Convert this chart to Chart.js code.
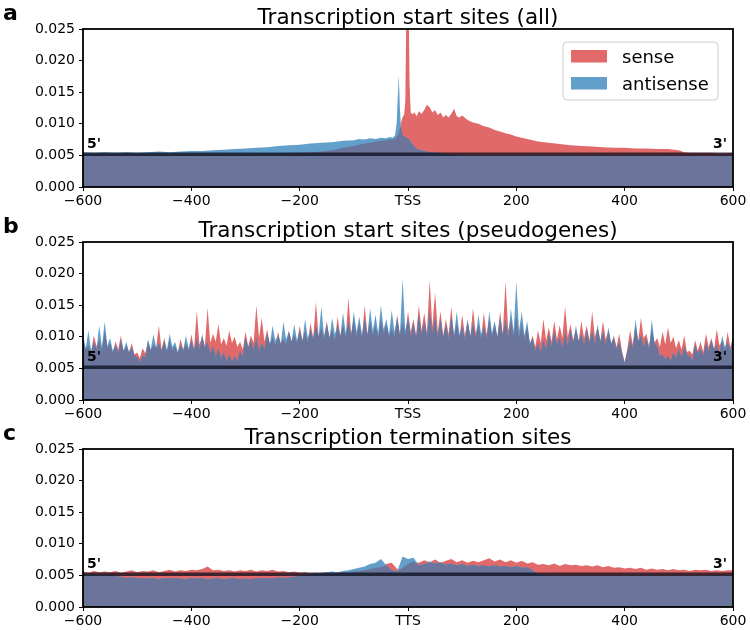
<!DOCTYPE html>
<html>
<head>
  <title>Transcription site profiles</title>
  <script src="https://cdn.jsdelivr.net/npm/chart.js"></script>
  <style>
    body {
      margin: 0;
      background: #fff;
    }
    .wrap {
      position: relative;
      width: 750px;
      height: 630px;
    }
    canvas {
      position: absolute;
      left: 0;
    }
  </style>
</head>
<body>
  <div class="wrap">
    <canvas id="panelA" width="750" height="210" style="top:0px"></canvas>
    <canvas id="panelB" width="750" height="210" style="top:213px"></canvas>
    <canvas id="panelC" width="750" height="210" style="top:420px"></canvas>
  </div>

  <script>
    // level of the dark reference line drawn across every panel
    const refLevel = 0.0052;

    // panel a: positions are finer around the TSS peaks
    const posA = [
      -600, -580, -560, -540, -520, -500, -480, -460, -440, -420,
      -400, -380, -360, -340, -320, -300, -280, -260, -240, -220,
      -200, -180, -160, -140, -120, -100, -90, -80, -70, -60,
      -50, -40, -34, -28, -24, -21, -19, -17, -15, -13,
      -11, -9, -7, -5, -3, -1, 1, 3, 5, 8,
      12, 16, 20, 25, 30, 35, 40, 45, 50, 55,
      60, 65, 70, 75, 80, 85, 90, 95, 100, 110,
      120, 130, 140, 150, 160, 170, 180, 190, 200, 220,
      240, 260, 280, 300, 320, 340, 360, 380, 400, 420,
      440, 460, 480, 500, 510, 520, 540, 560, 580, 600
    ];
    const senseA = [
      0.0052, 0.0053, 0.0052, 0.0052, 0.0053, 0.0052, 0.0052, 0.0053, 0.0052, 0.0052,
      0.0052, 0.0053, 0.0052, 0.0052, 0.0053, 0.0052, 0.0053, 0.0053, 0.0053, 0.0054,
      0.0054, 0.0055, 0.0056, 0.0058, 0.0062, 0.0065, 0.0067, 0.0069, 0.0070, 0.0072,
      0.0073, 0.0074, 0.0075, 0.0075, 0.0077, 0.0079, 0.0082, 0.0086, 0.0092, 0.0100,
      0.0108, 0.0112, 0.0115, 0.0135, 0.0280, 0.0340, 0.0300, 0.0160, 0.0118, 0.0115,
      0.0118, 0.0112, 0.0120, 0.0116, 0.0122, 0.0130, 0.0126, 0.0118, 0.0122, 0.0114,
      0.0118, 0.0110, 0.0114, 0.0110, 0.0116, 0.0124, 0.0112, 0.0110, 0.0113, 0.0106,
      0.0102, 0.0100, 0.0096, 0.0094, 0.0090, 0.0088, 0.0085, 0.0083, 0.0080, 0.0076,
      0.0072, 0.0070, 0.0068, 0.0066, 0.0065, 0.0064, 0.0063, 0.0062, 0.0062, 0.0061,
      0.0061, 0.0060, 0.0060, 0.0058, 0.0055, 0.0054, 0.0054, 0.0054, 0.0053, 0.0054
    ];
    const antiA = [
      0.0055, 0.0054, 0.0055, 0.0054, 0.0055, 0.0054, 0.0055, 0.0056, 0.0055, 0.0056,
      0.0057, 0.0057, 0.0058, 0.0059, 0.0060, 0.0061, 0.0062, 0.0063, 0.0065, 0.0066,
      0.0067, 0.0069, 0.0070, 0.0071, 0.0073, 0.0074, 0.0076, 0.0075, 0.0077, 0.0076,
      0.0078, 0.0077, 0.0079, 0.0078, 0.0082, 0.0100, 0.0140, 0.0177, 0.0125, 0.0095,
      0.0085, 0.0082, 0.0080, 0.0079, 0.0078, 0.0077, 0.0076, 0.0074, 0.0072, 0.0068,
      0.0064, 0.0061, 0.0059, 0.0058, 0.0057, 0.0056, 0.0055, 0.0055, 0.0054, 0.0054,
      0.0053, 0.0053, 0.0052, 0.0052, 0.0051, 0.0051, 0.0050, 0.0050, 0.0050, 0.0050,
      0.0049, 0.0050, 0.0049, 0.0049, 0.0050, 0.0049, 0.0049, 0.0050, 0.0049, 0.0049,
      0.0050, 0.0049, 0.0049, 0.0050, 0.0049, 0.0049, 0.0050, 0.0049, 0.0049, 0.0050,
      0.0049, 0.0049, 0.0050, 0.0049, 0.0049, 0.0050, 0.0049, 0.0049, 0.0050, 0.0049
    ];

    // panels b and c: one value every 10 bp from -600 to 600
    const posBC = [];
    for (let p = -600; p <= 600; p += 10) posBC.push(p);

    // panel b spike tops (at posBC) ...
    const senseB = [
      0.0095, 0.0088, 0.0102, 0.0096, 0.0110, 0.0090, 0.0093, 0.0102, 0.0086, 0.0090,
      0.0075, 0.0082, 0.0092, 0.0088, 0.0118, 0.0098, 0.0094, 0.0085, 0.0097, 0.0090,
      0.0104, 0.0141, 0.0100, 0.0146, 0.0105, 0.0120, 0.0098, 0.0110, 0.0100, 0.0092,
      0.0108, 0.0102, 0.0150, 0.0130, 0.0112, 0.0100, 0.0108, 0.0098, 0.0110, 0.0104,
      0.0118, 0.0110, 0.0122, 0.0155, 0.0115, 0.0125, 0.0112, 0.0132, 0.0120, 0.0162,
      0.0128, 0.0122, 0.0150, 0.0126, 0.0118, 0.0128, 0.0120, 0.0115, 0.0135, 0.0125,
      0.0140, 0.0128, 0.0150, 0.0138, 0.0190, 0.0170, 0.0140, 0.0128, 0.0148, 0.0122,
      0.0135, 0.0125, 0.0145, 0.0120, 0.0138, 0.0128, 0.0120, 0.0140, 0.0188, 0.0130,
      0.0135, 0.0122, 0.0118, 0.0102, 0.0110, 0.0128, 0.0115, 0.0125, 0.0118, 0.0148,
      0.0120, 0.0112, 0.0125, 0.0118, 0.0140, 0.0115, 0.0125, 0.0110, 0.0102, 0.0105,
      0.0060, 0.0110, 0.0118, 0.0130, 0.0105, 0.0112, 0.0098, 0.0108, 0.0115, 0.0100,
      0.0095, 0.0102, 0.0078, 0.0095, 0.0092, 0.0105, 0.0098, 0.0112, 0.0095, 0.0108,
      0.0098
    ];
    const antiB = [
      0.0105, 0.0110, 0.0092, 0.0118, 0.0124, 0.0098, 0.0088, 0.0095, 0.0092, 0.0084,
      0.0068, 0.0070, 0.0096, 0.0104, 0.0090, 0.0094, 0.0105, 0.0092, 0.0088, 0.0102,
      0.0094, 0.0098, 0.0105, 0.0092, 0.0085, 0.0082, 0.0075, 0.0072, 0.0070, 0.0078,
      0.0100, 0.0094, 0.0098, 0.0090, 0.0105, 0.0118, 0.0102, 0.0124, 0.0108, 0.0120,
      0.0110, 0.0128, 0.0112, 0.0118, 0.0148, 0.0120, 0.0130, 0.0118, 0.0138, 0.0125,
      0.0140, 0.0132, 0.0128, 0.0145, 0.0135, 0.0150, 0.0128, 0.0142, 0.0130, 0.0192,
      0.0130, 0.0122, 0.0135, 0.0125, 0.0140, 0.0130, 0.0128, 0.0120, 0.0132, 0.0140,
      0.0118, 0.0128, 0.0122, 0.0135, 0.0118, 0.0140, 0.0125, 0.0130, 0.0128, 0.0145,
      0.0188, 0.0140, 0.0125, 0.0098, 0.0090, 0.0095, 0.0105, 0.0110, 0.0100, 0.0108,
      0.0112, 0.0118, 0.0105, 0.0112, 0.0110, 0.0120, 0.0108, 0.0115, 0.0098, 0.0092,
      0.0058, 0.0095, 0.0128, 0.0102, 0.0098, 0.0128, 0.0085, 0.0072, 0.0070, 0.0075,
      0.0080, 0.0085, 0.0070, 0.0088, 0.0082, 0.0090, 0.0095, 0.0088, 0.0102, 0.0092,
      0.0100
    ];
    // ... and the troughs between them (at -595, -585, ..., 595)
    const senseBLow = [
      0.0080, 0.0076, 0.0085, 0.0078, 0.0082, 0.0074, 0.0080, 0.0077, 0.0075, 0.0072,
      0.0066, 0.0074, 0.0078, 0.0082, 0.0080, 0.0076, 0.0078, 0.0074, 0.0080, 0.0078,
      0.0082, 0.0088, 0.0085, 0.0090, 0.0092, 0.0088, 0.0086, 0.0090, 0.0084, 0.0080,
      0.0085, 0.0090, 0.0098, 0.0092, 0.0088, 0.0086, 0.0090, 0.0088, 0.0092, 0.0090,
      0.0095, 0.0092, 0.0098, 0.0100, 0.0096, 0.0098, 0.0094, 0.0102, 0.0098, 0.0104,
      0.0100, 0.0098, 0.0104, 0.0102, 0.0098, 0.0105, 0.0100, 0.0098, 0.0104, 0.0102,
      0.0108, 0.0102, 0.0110, 0.0106, 0.0115, 0.0108, 0.0102, 0.0104, 0.0100, 0.0098,
      0.0102, 0.0100, 0.0106, 0.0098, 0.0104, 0.0100, 0.0098, 0.0104, 0.0110, 0.0100,
      0.0098, 0.0095, 0.0088, 0.0084, 0.0090, 0.0094, 0.0092, 0.0096, 0.0098, 0.0100,
      0.0095, 0.0092, 0.0098, 0.0094, 0.0100, 0.0092, 0.0096, 0.0088, 0.0084, 0.0078,
      0.0082, 0.0088, 0.0092, 0.0098, 0.0085, 0.0090, 0.0084, 0.0088, 0.0090, 0.0082,
      0.0080, 0.0076, 0.0072, 0.0078, 0.0076, 0.0084, 0.0080, 0.0086, 0.0078, 0.0084
    ];
    const antiBLow = [
      0.0082, 0.0078, 0.0080, 0.0084, 0.0086, 0.0078, 0.0074, 0.0078, 0.0076, 0.0070,
      0.0060, 0.0068, 0.0080, 0.0084, 0.0078, 0.0080, 0.0084, 0.0076, 0.0078, 0.0082,
      0.0078, 0.0080, 0.0082, 0.0074, 0.0068, 0.0066, 0.0062, 0.0060, 0.0062, 0.0068,
      0.0082, 0.0080, 0.0078, 0.0080, 0.0088, 0.0094, 0.0088, 0.0096, 0.0092, 0.0094,
      0.0092, 0.0098, 0.0096, 0.0100, 0.0102, 0.0098, 0.0104, 0.0100, 0.0106, 0.0102,
      0.0108, 0.0104, 0.0102, 0.0110, 0.0106, 0.0112, 0.0104, 0.0108, 0.0102, 0.0110,
      0.0100, 0.0098, 0.0104, 0.0100, 0.0106, 0.0100, 0.0098, 0.0096, 0.0102, 0.0104,
      0.0096, 0.0100, 0.0098, 0.0104, 0.0096, 0.0106, 0.0100, 0.0102, 0.0098, 0.0108,
      0.0110, 0.0102, 0.0090, 0.0078, 0.0076, 0.0080, 0.0084, 0.0088, 0.0082, 0.0086,
      0.0090, 0.0094, 0.0086, 0.0090, 0.0088, 0.0094, 0.0086, 0.0090, 0.0080, 0.0074,
      0.0076, 0.0082, 0.0094, 0.0084, 0.0080, 0.0092, 0.0070, 0.0064, 0.0062, 0.0066,
      0.0068, 0.0072, 0.0062, 0.0074, 0.0070, 0.0076, 0.0080, 0.0074, 0.0084, 0.0078
    ];

    const senseC = [
      0.0056, 0.0054, 0.0057, 0.0055, 0.0056, 0.0055, 0.0057, 0.0054, 0.0056, 0.0058,
      0.0055, 0.0057, 0.0056, 0.0058, 0.0055, 0.0057, 0.0059, 0.0056, 0.0058, 0.0057,
      0.0059, 0.0058, 0.0060, 0.0064, 0.0058, 0.0059, 0.0057, 0.0058, 0.0056, 0.0058,
      0.0057, 0.0059, 0.0056, 0.0058, 0.0057, 0.0059, 0.0056, 0.0057, 0.0055, 0.0056,
      0.0054, 0.0055, 0.0053, 0.0054, 0.0053, 0.0054, 0.0053, 0.0054, 0.0055, 0.0054,
      0.0056, 0.0057, 0.0058, 0.0060, 0.0062, 0.0063, 0.0068, 0.0070, 0.0060, 0.0062,
      0.0068, 0.0072, 0.0070, 0.0074, 0.0071, 0.0075, 0.0070, 0.0073, 0.0076, 0.0071,
      0.0074, 0.0070, 0.0073, 0.0071, 0.0074, 0.0077, 0.0072, 0.0075, 0.0071, 0.0074,
      0.0070, 0.0073, 0.0069, 0.0071, 0.0067, 0.0068, 0.0066, 0.0069, 0.0065, 0.0068,
      0.0066, 0.0067, 0.0065, 0.0066, 0.0064, 0.0066, 0.0063, 0.0065, 0.0062, 0.0063,
      0.0061, 0.0062, 0.0060, 0.0062, 0.0059, 0.0061, 0.0059, 0.0060, 0.0058, 0.0060,
      0.0058, 0.0059, 0.0057, 0.0059, 0.0058, 0.0059, 0.0057, 0.0058, 0.0057, 0.0058,
      0.0058
    ];
    const antiC = [
      0.0052, 0.0051, 0.0052, 0.0051, 0.0050, 0.0051, 0.0049, 0.0048, 0.0046, 0.0047,
      0.0045, 0.0046, 0.0045, 0.0046, 0.0044, 0.0046, 0.0045, 0.0046, 0.0045, 0.0044,
      0.0046, 0.0045, 0.0046, 0.0044, 0.0045, 0.0046, 0.0044, 0.0045, 0.0046, 0.0044,
      0.0045, 0.0044, 0.0046, 0.0045, 0.0046, 0.0045, 0.0047, 0.0046, 0.0047, 0.0048,
      0.0049, 0.0051, 0.0052, 0.0053, 0.0054, 0.0055, 0.0056, 0.0055, 0.0057, 0.0058,
      0.0060, 0.0062, 0.0064, 0.0068, 0.0070, 0.0076, 0.0066, 0.0058, 0.0056, 0.0080,
      0.0076, 0.0078, 0.0066, 0.0068, 0.0072, 0.0069, 0.0071, 0.0067, 0.0069, 0.0066,
      0.0068, 0.0065, 0.0067, 0.0065, 0.0066, 0.0064, 0.0066, 0.0064, 0.0065, 0.0063,
      0.0065, 0.0062, 0.0063, 0.0058, 0.0052, 0.0051, 0.0050, 0.0050, 0.0049, 0.0050,
      0.0049, 0.0050, 0.0049, 0.0050, 0.0049, 0.0050, 0.0049, 0.0050, 0.0049, 0.0050,
      0.0049, 0.0050, 0.0049, 0.0050, 0.0049, 0.0050, 0.0049, 0.0050, 0.0049, 0.0050,
      0.0049, 0.0050, 0.0049, 0.0050, 0.0049, 0.0050, 0.0049, 0.0050, 0.0049, 0.0050,
      0.0049
    ];

    const xTicks = [-600, -400, -200, 0, 200, 400, 600];
    const yTicks = [0, 0.005, 0.01, 0.015, 0.02, 0.025];

    const senseColor = '#e2696a';
    const antiColor = '#62a0cb';
    const overlapColor = '#6b759c';
    const fontFamily = '"DejaVu Sans", "Liberation Sans", sans-serif';

    Chart.defaults.font.family = fontFamily;
    Chart.defaults.color = '#000';

    // merge spike tops and troughs of panel b into one ordered series
    function mergeTopsAndTroughs(pos, tops, lows) {
      const x = [], y = [];
      pos.forEach((p, i) => {
        x.push(p); y.push(tops[i]);
        if (i < lows.length) { x.push(p + 5); y.push(lows[i]); }
      });
      return { x, y };
    }

    // titles, panel letters, frame, 5'/3' marks and the legend box
    const decorPlugin = {
      id: 'decor',
      afterDraw(chart, args, opts) {
        const ctx = chart.ctx;
        const area = chart.chartArea;
        const yLine = chart.scales.y.getPixelForValue(refLevel);
        ctx.save();
        ctx.strokeStyle = '#000';
        ctx.lineWidth = 1.8;
        ctx.strokeRect(area.left, area.top, area.right - area.left, area.bottom - area.top);

        ctx.fillStyle = '#000';
        ctx.textBaseline = 'alphabetic';
        ctx.font = '21.5px ' + fontFamily;
        ctx.textAlign = 'center';
        ctx.fillText(opts.title, (area.left + area.right) / 2, area.top - 5);

        ctx.font = 'bold 22px ' + fontFamily;
        ctx.textAlign = 'left';
        ctx.fillText(opts.letter, 3, area.top - 9);

        ctx.font = 'bold 14px ' + fontFamily;
        ctx.fillText("5'", area.left + 4, yLine - 6);
        ctx.textAlign = 'right';
        ctx.fillText("3'", area.right - 6, yLine - 6);

        if (opts.legend) {
          const bx = area.right - 170, by = area.top + 13;
          ctx.beginPath();
          ctx.roundRect(bx, by, 155, 58, 4);
          ctx.fillStyle = 'rgba(255,255,255,0.85)';
          ctx.fill();
          ctx.strokeStyle = '#cccccc';
          ctx.lineWidth = 1;
          ctx.stroke();
          const entries = chart.data.datasets.filter(d => d.inLegend);
          ctx.font = '18px ' + fontFamily;
          ctx.textAlign = 'left';
          entries.forEach((d, i) => {
            ctx.fillStyle = d.backgroundColor;
            ctx.fillRect(bx + 8, by + 8 + i * 27, 36, 12.5);
            ctx.fillStyle = '#000';
            ctx.fillText(d.label, bx + 59, by + 21 + i * 27);
          });
        }
        ctx.restore();
      }
    };

    function toPoints(pos, vals) {
      return pos.map((x, i) => ({ x: x, y: vals[i] }));
    }

    function makePanel(canvasId, pos, sense, antiPos, anti, title, letter, centerLabel, legend) {
      // purple part where both strands overlap
      const overlap = sense.map((v, i) => Math.min(v, anti[i]));
      const ctx = document.getElementById(canvasId).getContext('2d');
      return new Chart(ctx, {
        type: 'line',
        data: {
          datasets: [
            {
              label: 'sense', inLegend: true, order: 3,
              data: toPoints(pos, sense),
              backgroundColor: senseColor, borderWidth: 0, fill: 'origin'
            },
            {
              label: 'antisense', inLegend: true, order: 2,
              data: toPoints(antiPos, anti),
              backgroundColor: antiColor, borderWidth: 0, fill: 'origin'
            },
            {
              label: 'overlap', order: 1,
              data: toPoints(pos, overlap),
              backgroundColor: overlapColor, borderWidth: 0, fill: 'origin'
            },
            {
              label: 'reference', order: 0,
              data: [{ x: -600, y: refLevel }, { x: 600, y: refLevel }],
              borderColor: 'rgba(10,12,25,0.75)', borderWidth: 3.5, fill: false
            }
          ]
        },
        options: {
          responsive: false,
          animation: false,
          devicePixelRatio: 1,
          layout: { padding: { top: 29, right: 17, left: 0, bottom: 0 } },
          elements: { point: { radius: 0 }, line: { tension: 0 } },
          plugins: {
            legend: { display: false },
            tooltip: { enabled: false },
            decor: { title: title, letter: letter, legend: legend }
          },
          scales: {
            x: {
              type: 'linear', min: -600, max: 600,
              border: { display: false },
              grid: { drawOnChartArea: false, drawTicks: true, tickLength: 4, color: '#000' },
              afterBuildTicks: s => { s.ticks = xTicks.map(v => ({ value: v })); },
              afterFit: s => { s.height = 23; },
              ticks: {
                padding: 2, maxRotation: 0, autoSkip: false,
                font: { size: 14 },
                callback: v => v === 0 ? centerLabel : (v < 0 ? '\u2212' + Math.abs(v) : String(v))
              }
            },
            y: {
              min: 0, max: 0.025,
              border: { display: false },
              grid: { drawOnChartArea: false, drawTicks: true, tickLength: 4, color: '#000' },
              afterBuildTicks: s => { s.ticks = yTicks.map(v => ({ value: v })); },
              afterFit: s => { s.width = 83; },
              ticks: {
                padding: 4,
                font: { size: 14 },
                callback: v => Number(v).toFixed(3)
              }
            }
          }
        },
        plugins: [decorPlugin]
      });
    }

    const senseBAll = mergeTopsAndTroughs(posBC, senseB, senseBLow);
    const antiBAll = mergeTopsAndTroughs(posBC, antiB, antiBLow);

    makePanel('panelA', posA, senseA, posA, antiA, 'Transcription start sites (all)', 'a', 'TSS', true);
    makePanel('panelB', senseBAll.x, senseBAll.y, antiBAll.x, antiBAll.y, 'Transcription start sites (pseudogenes)', 'b', 'TSS', false);
    makePanel('panelC', posBC, senseC, posBC, antiC, 'Transcription termination sites', 'c', 'TTS', false);
  </script>
</body>
</html>
